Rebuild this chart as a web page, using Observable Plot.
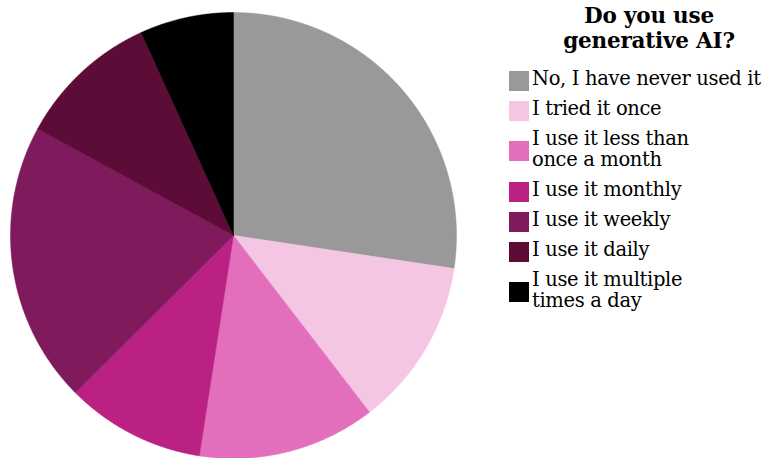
<!DOCTYPE html>
<html><head><meta charset="utf-8">
<script src="https://cdn.jsdelivr.net/npm/d3@7"></script>
<script src="https://cdn.jsdelivr.net/npm/@observablehq/plot@0.6"></script>
<style>
body{margin:0;background:#fff;}
#wrap{position:relative;width:766px;height:458px;overflow:hidden;font-family:"DejaVu Serif",serif;color:#000;}
#pie{position:absolute;left:0;top:0;}
#legend{position:absolute;left:509px;top:0;width:257px;}
#title{font-weight:bold;font-size:21.5px;line-height:25px;text-align:center;padding-left:23px;margin-top:3px;margin-bottom:15px;letter-spacing:-0.2px;}
.item{display:flex;align-items:center;margin-bottom:9px;}
.sw{width:20px;height:20px;flex:none;margin-right:3px;position:relative;top:2px;}
.lab{font-size:19.5px;line-height:21px;white-space:nowrap;letter-spacing:-0.35px;}
</style>
</head><body>
<div id="wrap"><div id="pie"></div><div id="legend"></div></div>
<script>
const categories = ["No, I have never used it","I tried it once","I use it less than once a month","I use it monthly","I use it weekly","I use it daily","I use it multiple times a day"];
const legendLabels = [["No, I have never used it"],["I tried it once"],["I use it less than","once a month"],["I use it monthly"],["I use it weekly"],["I use it daily"],["I use it multiple","times a day"]];
const shares = [27.4, 12.2, 12.9, 10.1, 20.4, 10.3, 6.8];
const colors = ["#999999","#f5c6e4","#e36fbc","#bb2183","#7f1a5c","#5c0c37","#000000"];
const titleLines = ["Do you use","generative AI?"];

const rows = categories.map((c,i)=>({cat:c, share:shares[i]}));
const arcs = d3.pie().sort(null).value(d=>d.share)(rows);
const pts = [];
for (const a of arcs) {
  const cat = a.data.cat;
  pts.push({cat, x:0, y:0});
  const n = Math.max(2, Math.ceil((a.endAngle - a.startAngle)/0.004));
  for (let k=0;k<=n;k++){
    const t = a.startAngle + (a.endAngle - a.startAngle)*k/n;
    pts.push({cat, x:Math.sin(t), y:Math.cos(t)});
  }
  pts.push({cat, x:0, y:0});
}

const chart = Plot.plot({
  width:466, height:458,
  marginLeft:10, marginRight:10, marginTop:12, marginBottom:0,
  x:{domain:[-1,1], axis:null},
  y:{domain:[-1,1], axis:null},
  color:{domain:categories, range:colors},
  marks:[
    Plot.line(pts, {x:"x", y:"y", z:"cat", fill:"cat", stroke:"cat", strokeWidth:0.5, curve:"linear"})
  ]
});
document.getElementById("pie").appendChild(chart);

const lg = document.getElementById("legend");
const t = document.createElement("div"); t.id="title";
t.innerHTML = titleLines.join("<br>");
lg.appendChild(t);
legendLabels.forEach((lines,i)=>{
  const it = document.createElement("div"); it.className="item";
  const sw = document.createElement("div"); sw.className="sw"; sw.style.background = colors[i];
  const lb = document.createElement("div"); lb.className="lab"; lb.innerHTML = lines.join("<br>");
  it.appendChild(sw); it.appendChild(lb); lg.appendChild(it);
});
</script>
</body></html>
